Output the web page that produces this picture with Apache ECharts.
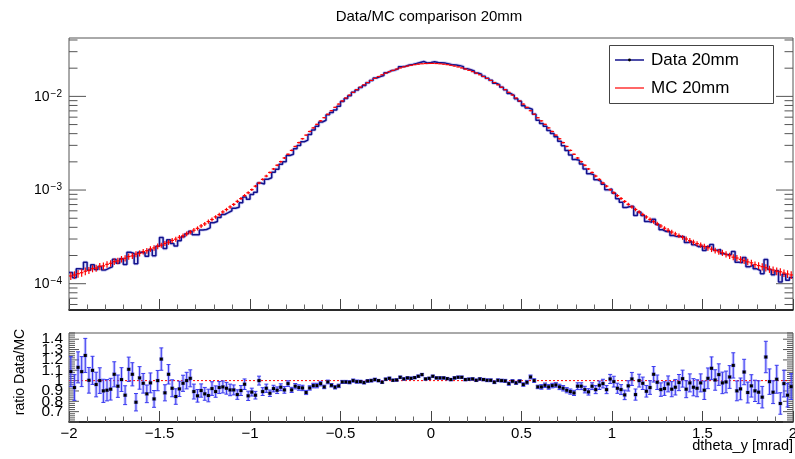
<!DOCTYPE html>
<html>
<head>
<meta charset="utf-8">
<title>Data/MC comparison 20mm</title>
<script src="https://cdn.jsdelivr.net/npm/echarts@6.0.0/dist/echarts.min.js"></script>
<style>
  html, body { margin: 0; padding: 0; background: #ffffff; }
  #chart { width: 795px; height: 459px; }
</style>
</head>
<body>
<div id="chart"></div>
<script>
// Histogram binning: 200 bins on [-2, 2] mrad
const X_MIN = -2, X_MAX = 2, N_BINS = 200;

// Tick labels
const xTickLabels = ['\u22122', '\u22121.5', '\u22121', '\u22120.5', '0', '0.5', '1', '1.5', '2'];
const logTickExponents = [-4, -3, -2];
const ratioTickLabels = ['0.7', '0.8', '0.9', '1', '1.1', '1.2', '1.3', '1.4'];

// MC 20mm, normalised bin contents
const mcValues = [
  0.000121, 0.000124, 0.000128, 0.000131, 0.000136, 0.000139, 0.000145, 0.000147, 0.000153, 0.000155,
  0.000161, 0.000165, 0.000172, 0.000175, 0.000183, 0.000187, 0.000195, 0.000198, 0.000207, 0.000211,
  0.000220, 0.000225, 0.000235, 0.000241, 0.000251, 0.000258, 0.000269, 0.000277, 0.000290, 0.000299,
  0.000313, 0.000325, 0.000341, 0.000355, 0.000373, 0.000390, 0.000414, 0.000435, 0.000461, 0.000485,
  0.000517, 0.000547, 0.000584, 0.000619, 0.000660, 0.000703, 0.000757, 0.000811, 0.000873, 0.000935,
  0.00101, 0.00110, 0.00119, 0.00130, 0.00141, 0.00154, 0.00168, 0.00184, 0.00201, 0.00220,
  0.00241, 0.00265, 0.00292, 0.00321, 0.00353, 0.00386, 0.00422, 0.00461, 0.00503, 0.00548,
  0.00592, 0.00645, 0.00703, 0.00764, 0.00827, 0.00894, 0.00962, 0.01033, 0.01105, 0.01179,
  0.01253, 0.01329, 0.01405, 0.01480, 0.01555, 0.01628, 0.01700, 0.01769, 0.01836, 0.01899,
  0.01958, 0.02013, 0.02063, 0.02108, 0.02148, 0.02181, 0.02208, 0.02228, 0.02242, 0.02249,
  0.02249, 0.02242, 0.02228, 0.02208, 0.02181, 0.02148, 0.02108, 0.02063, 0.02013, 0.01958,
  0.01899, 0.01836, 0.01769, 0.01700, 0.01628, 0.01555, 0.01480, 0.01405, 0.01329, 0.01253,
  0.01179, 0.01105, 0.01033, 0.00962, 0.00894, 0.00827, 0.00764, 0.00703, 0.00645, 0.00592,
  0.00548, 0.00503, 0.00461, 0.00422, 0.00386, 0.00353, 0.00321, 0.00292, 0.00265, 0.00241,
  0.00220, 0.00201, 0.00184, 0.00168, 0.00154, 0.00141, 0.00130, 0.00119, 0.00110, 0.00101,
  0.000936, 0.000872, 0.000812, 0.000756, 0.000704, 0.000659, 0.000620, 0.000583, 0.000548, 0.000516,
  0.000486, 0.000460, 0.000436, 0.000413, 0.000391, 0.000372, 0.000356, 0.000340, 0.000326, 0.000312,
  0.000300, 0.000289, 0.000278, 0.000268, 0.000259, 0.000250, 0.000242, 0.000234, 0.000226, 0.000219,
  0.000214, 0.000206, 0.000199, 0.000192, 0.000188, 0.000182, 0.000176, 0.000171, 0.000167, 0.000160,
  0.000156, 0.000152, 0.000148, 0.000143, 0.000140, 0.000136, 0.000134, 0.000130, 0.000127, 0.000124
];

// Data / MC ratio per bin
const ratioValues = [
  1.087, 0.933, 1.128, 1.087, 1.243, 1.003, 1.099, 0.962, 1.000, 0.901,
  0.907, 0.917, 1.061, 0.946, 1.010, 0.859, 1.109, 1.061, 0.791, 1.026,
  0.974, 0.872, 0.978, 0.823, 1.000, 1.208, 0.882, 1.061, 0.926, 0.846,
  0.920, 0.974, 1.000, 1.022, 0.894, 0.853, 0.904, 0.872, 0.856, 0.923,
  0.894, 0.933, 0.939, 0.926, 0.910, 0.910, 0.865, 0.904, 0.965, 0.853,
  0.889, 0.859, 1.000, 0.894, 0.926, 0.878, 0.923, 0.907, 0.936, 0.910,
  0.971, 0.910, 0.946, 0.933, 0.929, 0.885, 0.929, 0.952, 0.952, 0.971,
  0.939, 0.987, 0.955, 0.936, 0.949, 0.987, 0.987, 0.984, 1.000, 0.990,
  0.990, 0.981, 0.997, 1.000, 1.010, 1.000, 0.984, 1.013, 1.022, 1.003,
  1.006, 1.032, 1.016, 1.026, 1.022, 1.029, 1.042, 1.058, 1.016, 1.022,
  1.042, 1.026, 1.026, 1.026, 1.019, 1.010, 1.026, 1.032, 1.032, 1.010,
  1.013, 1.016, 1.003, 1.016, 1.010, 1.003, 1.003, 0.984, 1.003, 1.000,
  0.997, 0.971, 0.994, 0.978, 0.994, 0.962, 0.984, 1.035, 1.000, 0.939,
  0.939, 0.955, 0.939, 0.952, 0.958, 0.939, 0.926, 0.907, 0.894, 0.881,
  0.946, 0.946, 0.913, 0.891, 0.946, 0.913, 0.955, 0.971, 0.913, 1.016,
  0.990, 0.926, 0.913, 0.862, 0.949, 1.016, 0.865, 1.000, 0.974, 0.897,
  0.933, 1.061, 0.984, 0.913, 0.923, 0.968, 0.917, 0.936, 0.981, 1.019,
  0.917, 0.978, 0.936, 0.926, 0.978, 0.907, 1.022, 1.119, 1.006, 1.058,
  0.978, 0.987, 1.035, 1.147, 0.901, 0.920, 1.083, 0.885, 0.949, 0.901,
  0.888, 0.840, 1.228, 0.990, 0.888, 1.013, 0.779, 0.971, 0.859, 0.942
];

// Statistical error on the ratio per bin
const ratioErrors = [
  0.145, 0.124, 0.150, 0.145, 0.165, 0.124, 0.136, 0.119, 0.124, 0.112,
  0.103, 0.105, 0.121, 0.108, 0.115, 0.091, 0.118, 0.112, 0.084, 0.109,
  0.095, 0.085, 0.096, 0.081, 0.098, 0.108, 0.078, 0.094, 0.082, 0.075,
  0.074, 0.078, 0.080, 0.082, 0.072, 0.061, 0.064, 0.062, 0.061, 0.066,
  0.055, 0.058, 0.058, 0.057, 0.056, 0.048, 0.046, 0.048, 0.051, 0.045,
  0.038, 0.037, 0.043, 0.038, 0.040, 0.031, 0.032, 0.032, 0.033, 0.032,
  0.027, 0.025, 0.026, 0.026, 0.026, 0.020, 0.021, 0.022, 0.022, 0.022,
  0.017, 0.018, 0.017, 0.017, 0.017, 0.015, 0.015, 0.015, 0.015, 0.015,
  0.013, 0.013, 0.013, 0.013, 0.013, 0.011, 0.011, 0.011, 0.011, 0.011,
  0.011, 0.011, 0.011, 0.011, 0.011, 0.010, 0.011, 0.011, 0.010, 0.010,
  0.010, 0.010, 0.010, 0.010, 0.010, 0.011, 0.011, 0.011, 0.011, 0.011,
  0.011, 0.011, 0.011, 0.011, 0.011, 0.013, 0.013, 0.013, 0.013, 0.013,
  0.015, 0.015, 0.015, 0.015, 0.015, 0.017, 0.018, 0.019, 0.018, 0.017,
  0.022, 0.022, 0.022, 0.022, 0.022, 0.026, 0.026, 0.025, 0.025, 0.025,
  0.033, 0.033, 0.032, 0.031, 0.033, 0.039, 0.041, 0.042, 0.039, 0.044,
  0.052, 0.049, 0.048, 0.046, 0.050, 0.063, 0.054, 0.062, 0.060, 0.056,
  0.066, 0.075, 0.070, 0.065, 0.066, 0.077, 0.073, 0.075, 0.078, 0.082,
  0.082, 0.087, 0.083, 0.082, 0.087, 0.089, 0.100, 0.110, 0.099, 0.104,
  0.104, 0.105, 0.110, 0.122, 0.096, 0.105, 0.123, 0.101, 0.108, 0.103,
  0.110, 0.104, 0.152, 0.123, 0.110, 0.135, 0.104, 0.129, 0.114, 0.125
];

// ---- derived per-bin quantities ----
const binWidth = (X_MAX - X_MIN) / N_BINS;
const binEdges = [];
for (let i = 0; i <= N_BINS; i++) binEdges.push(+(X_MIN + i * binWidth).toFixed(4));
const binCenters = [];
for (let i = 0; i < N_BINS; i++) binCenters.push((binEdges[i] + binEdges[i + 1]) / 2);

// Data 20mm = MC x (Data/MC)
const dataValues = mcValues.map((m, i) => m * ratioValues[i]);

// step outline: left edge of each bin, closed at the upper edge
const dataStep = dataValues.map((v, i) => [binEdges[i], v]);
dataStep.push([X_MAX, dataValues[N_BINS - 1]]);

// MC markers: bin extent, content, relative uncertainty
const mcItems = mcValues.map((m, i) => [binEdges[i], binEdges[i + 1], m, ratioErrors[i] / ratioValues[i] / Math.SQRT2]);
const ratioItems = ratioValues.map((r, i) => [binCenters[i], r, ratioErrors[i]]);

// axis ranges
const Y_LOG_MIN = 5.24e-5, Y_LOG_MAX = 0.042;
const R_MIN = 0.6, R_MAX = 1.46;

// tick positions (major + minor) for the log axis and the ratio axis
const logTicks = [];
for (let e = -5; e <= -2; e++) {
  for (let m = 1; m <= 9; m++) {
    const v = m * Math.pow(10, e);
    if (v > Y_LOG_MIN && v < Y_LOG_MAX) logTicks.push([X_MIN, v, m === 1 ? 1 : 0]);
  }
}
const ratioTicks = [];
for (let k = 30; k <= 73; k++) ratioTicks.push([X_MIN, +(k * 0.02).toFixed(2), k % 5 === 0 ? 1 : 0]);

const FONT = '"Liberation Sans", Arial, Helvetica, sans-serif';
const BLUE_DARK = '#12128c';
const RED = '#ff0000';

function yTickRender(majorLen, minorLen) {
  return function (params, api) {
    const cs = params.coordSys;
    const y = api.coord([api.value(0), api.value(1)])[1];
    const len = api.value(2) ? majorLen : minorLen;
    const style = { stroke: '#555', lineWidth: 1 };
    return {
      type: 'group',
      children: [
        { type: 'line', shape: { x1: cs.x, y1: y, x2: cs.x + len, y2: y }, style: style },
        { type: 'line', shape: { x1: cs.x + cs.width - len, y1: y, x2: cs.x + cs.width, y2: y }, style: style }
      ]
    };
  };
}

function xAxisBase(gridIndex, showLabels) {
  return {
    type: 'value', gridIndex: gridIndex, min: X_MIN, max: X_MAX, interval: 0.5,
    axisLine: { show: true, onZero: false, lineStyle: { color: '#000', width: 1.5 } },
    axisTick: { show: true, inside: true, length: 11, lineStyle: { color: '#444', width: 1 } },
    minorTick: { show: true, splitNumber: 5, length: 5.5, lineStyle: { color: '#666', width: 1 } },
    splitLine: { show: false },
    minorSplitLine: { show: false },
    axisLabel: {
      show: showLabels, margin: 4, fontFamily: FONT, fontSize: 15, color: '#000', hideOverlap: false,
      formatter: function (v) {
        const idx = Math.round((v - X_MIN) / 0.5);
        return xTickLabels[idx] !== undefined ? xTickLabels[idx] : '';
      }
    }
  };
}

const chart = echarts.init(document.getElementById('chart'), null, { renderer: 'canvas' });

chart.setOption({
  animation: false,
  backgroundColor: '#ffffff',
  grid: [
    { left: 69, top: 38, width: 724, height: 272, show: true, borderColor: '#555', borderWidth: 1,
      backgroundColor: 'transparent', containLabel: false, outerBoundsMode: 'none' },
    { left: 69, top: 333, width: 724, height: 89, show: true, borderColor: '#555', borderWidth: 1,
      backgroundColor: 'transparent', containLabel: false, outerBoundsMode: 'none' }
  ],
  xAxis: [xAxisBase(0, false), xAxisBase(1, true)],
  yAxis: [
    {
      type: 'log', logBase: 10, gridIndex: 0, min: Y_LOG_MIN, max: Y_LOG_MAX,
      axisLine: { show: false }, axisTick: { show: false }, splitLine: { show: false },
      axisLabel: {
        show: true, margin: 7, hideOverlap: false, showMinLabel: true, showMaxLabel: true,
        formatter: function (v) {
          const e = Math.round(Math.log10(v));
          if (Math.abs(Math.log10(v) - e) > 1e-6 || logTickExponents.indexOf(e) < 0) return '';
          return '{b|10}{s|\u2212' + (-e) + '}';
        },
        rich: {
          b: { fontFamily: FONT, fontSize: 14, color: '#000', verticalAlign: 'bottom' },
          s: { fontFamily: FONT, fontSize: 10, color: '#000', verticalAlign: 'bottom', padding: [0, 0, 5, 1] }
        }
      }
    },
    {
      type: 'value', gridIndex: 1, min: R_MIN, max: R_MAX, interval: 0.1,
      axisLine: { show: false }, axisTick: { show: false }, splitLine: { show: false },
      axisLabel: {
        show: true, margin: 6, hideOverlap: false, fontFamily: FONT, fontSize: 15.5, color: '#000',
        formatter: function (v) {
          const idx = Math.round((v - 0.7) / 0.1);
          if (Math.abs(v - (0.7 + idx * 0.1)) > 1e-6) return '';
          return ratioTickLabels[idx] !== undefined ? ratioTickLabels[idx] : '';
        }
      }
    }
  ],
  series: [
    // y ticks (both sides) of the upper pad
    { type: 'custom', xAxisIndex: 0, yAxisIndex: 0, data: logTicks, encode: { x: 0, y: 1 },
      renderItem: yTickRender(17, 8.5), clip: false, silent: true, z: 1 },
    // y ticks (both sides) of the ratio pad
    { type: 'custom', xAxisIndex: 1, yAxisIndex: 1, data: ratioTicks, encode: { x: 0, y: 1 },
      renderItem: yTickRender(10, 6), clip: false, silent: true, z: 1 },

    // Data 20mm: soft outline under the step line
    { type: 'line', name: 'Data 20mm halo', xAxisIndex: 0, yAxisIndex: 0, data: dataStep, step: 'end',
      symbol: 'none', lineStyle: { color: 'rgba(90, 90, 215, 0.30)', width: 3.2 }, silent: true, z: 2 },
    // Data 20mm step histogram
    { type: 'line', name: 'Data 20mm', xAxisIndex: 0, yAxisIndex: 0, data: dataStep, step: 'end',
      symbol: 'none', lineStyle: { color: BLUE_DARK, width: 1.5 }, silent: true, z: 3 },

    // MC 20mm: bin-wide markers with vertical error bars
    { type: 'custom', name: 'MC 20mm', xAxisIndex: 0, yAxisIndex: 0, data: mcItems,
      encode: { x: [0, 1], y: 2 }, clip: true, silent: true, z: 4,
      renderItem: function (params, api) {
        const lo = api.value(0), hi = api.value(1), v = api.value(2), e = api.value(3);
        const a = api.coord([lo, v]), b = api.coord([hi, v]);
        const cx = (a[0] + b[0]) / 2;
        const up = api.coord([(lo + hi) / 2, v * (1 + e)])[1];
        const dn = api.coord([(lo + hi) / 2, v * (1 - e)])[1];
        const st = { stroke: RED, lineWidth: 1.2 };
        return {
          type: 'group',
          children: [
            { type: 'line', shape: { x1: a[0], y1: a[1], x2: b[0], y2: b[1] }, style: st },
            { type: 'line', shape: { x1: cx, y1: up, x2: cx, y2: dn }, style: st }
          ]
        };
      }
    },

    // ratio = 1 reference
    { type: 'line', xAxisIndex: 1, yAxisIndex: 1, data: [[X_MIN, 1], [X_MAX, 1]], symbol: 'none',
      lineStyle: { color: RED, width: 1, type: [2, 2] }, silent: true, z: 2 },

    // Data/MC ratio with error bars
    { type: 'custom', name: 'ratio', xAxisIndex: 1, yAxisIndex: 1, data: ratioItems,
      encode: { x: 0, y: 1 }, clip: true, silent: true, z: 3,
      renderItem: function (params, api) {
        const x = api.value(0), r = api.value(1), e = api.value(2);
        const p = api.coord([x, r]);
        const top = api.coord([x, r + e])[1];
        const bot = api.coord([x, r - e])[1];
        return {
          type: 'group',
          children: [
            { type: 'line', shape: { x1: p[0], y1: top, x2: p[0], y2: bot },
              style: { stroke: 'rgba(110, 110, 255, 0.40)', lineWidth: 3 } },
            { type: 'line', shape: { x1: p[0], y1: top, x2: p[0], y2: bot },
              style: { stroke: '#3a3af0', lineWidth: 1 } },
            { type: 'line', shape: { x1: p[0] - 2, y1: top, x2: p[0] + 2, y2: top },
              style: { stroke: '#3a3af0', lineWidth: 1 } },
            { type: 'line', shape: { x1: p[0] - 2, y1: bot, x2: p[0] + 2, y2: bot },
              style: { stroke: '#3a3af0', lineWidth: 1 } },
            { type: 'rect', shape: { x: p[0] - 2.2, y: p[1] - 1.8, width: 4.4, height: 3.6 },
              style: { fill: 'rgba(90, 90, 230, 0.55)' } },
            { type: 'rect', shape: { x: p[0] - 1.5, y: p[1] - 1.5, width: 3, height: 3 },
              style: { fill: '#000' } }
          ]
        };
      }
    }
  ],
  graphic: [
    // title
    { type: 'text', x: 429, y: 17, silent: true,
      style: { text: 'Data/MC comparison 20mm', fontFamily: FONT, fontSize: 15, fill: '#000',
               align: 'center', verticalAlign: 'middle' } },
    // legend box
    { type: 'rect', silent: true, z: 10, shape: { x: 609.5, y: 45.5, width: 164, height: 58 },
      style: { fill: '#fff', stroke: '#444', lineWidth: 1 } },
    { type: 'line', silent: true, z: 11, shape: { x1: 615, y1: 60, x2: 644, y2: 60 },
      style: { stroke: BLUE_DARK, lineWidth: 1.5 } },
    { type: 'circle', silent: true, z: 12, shape: { cx: 629.5, cy: 60, r: 1.4 }, style: { fill: '#000' } },
    { type: 'text', silent: true, z: 11, x: 651, y: 60,
      style: { text: 'Data 20mm', fontFamily: FONT, fontSize: 17, fill: '#000', verticalAlign: 'middle' } },
    { type: 'line', silent: true, z: 11, shape: { x1: 615, y1: 88, x2: 644, y2: 88 },
      style: { stroke: RED, lineWidth: 1.2 } },
    { type: 'text', silent: true, z: 11, x: 651, y: 88,
      style: { text: 'MC 20mm', fontFamily: FONT, fontSize: 17, fill: '#000', verticalAlign: 'middle' } },
    // ratio axis title
    { type: 'text', silent: true, x: 20, y: 372, rotation: Math.PI / 2,
      style: { text: 'ratio Data/MC', fontFamily: FONT, fontSize: 14, fill: '#000',
               align: 'center', verticalAlign: 'middle' } },
    // x axis title
    { type: 'text', silent: true, x: 793, y: 446,
      style: { text: 'dtheta_y [mrad]', fontFamily: FONT, fontSize: 14.5, fill: '#000',
               align: 'right', verticalAlign: 'middle' } }
  ]
});
</script>
</body>
</html>
